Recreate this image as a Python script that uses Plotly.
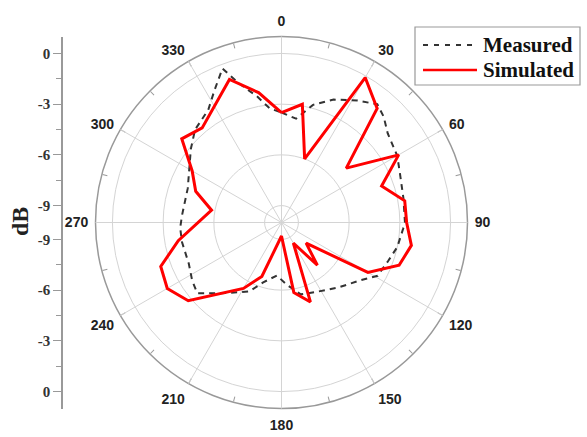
import plotly.graph_objects as go

# ---- data ----
meas_theta = [0, 8, 15, 23, 32, 39, 44, 50, 60, 67, 79, 90, 93, 102, 110, 119, 126, 139,
              153, 165, 175, 185, 197, 205, 218, 230, 237, 246, 259, 267, 274, 290, 298,
              309, 317, 327, 333, 339, 343, 349, 354]
meas_db = [-3.5, -3.8, -2.8, -2.1, -1.5, -1.0, -1.3, -1.8, -2.1, -2.4, -2.65, -2.7, -2.8,
           -3.0, -3.3, -3.5, -4.2, -4.9, -5.4, -5.6, -6.3, -6.85, -6.3, -5.5, -4.7, -3.5,
           -3.7, -4.0, -4.0, -4.0, -4.1, -4.1, -3.8, -3.1, -2.5, -2.05, -1.25, -0.25,
           -1.4, -2.4, -3.2]

sim_theta = [0, 10, 20, 30, 40, 50, 60, 70, 80, 90, 100, 110, 120, 130, 140, 150, 160, 170,
             180, 200, 210, 230, 240, 250, 260, 280, 290, 300, 310, 320, 340, 350]
sim_db = [-3.5, -2.9, -6.0, -0.1, -1.2, -5.0, -2.0, -3.7, -2.6, -2.6, -2.2, -2.6, -4.1, -8.1,
          -6.7, -8.6, -5.0, -5.8, -9.2, -6.6, -5.5, -2.8, -2.2, -2.4, -3.8, -5.8, -4.6, -3.9,
          -2.3, -2.7, -1.0, -2.2]

minor_angles = list(range(0, 360, 15))
major_angles = list(range(0, 360, 30))
major_labels = [str(a) for a in major_angles]
radial_range = [-10, 1]
radial_grid = [-9, -6, -3, 0]

side_tickvals = [10, 7, 4, 1, -1, -4, -7, -10]
side_ticktext = ["0", "-3", "-6", "-9", "-9", "-6", "-3", "0"]
side_minor = [8.5, 5.5, 2.5, -2.5, -5.5, -8.5]

legend_names = ["Measured", "Simulated"]

# ---- geometry ----
W, H = 587, 437
cx, cy, R = 281.5, 222.5, 186
dom_x = [(cx - R) / W, (cx + R) / W]
dom_y = [(H - cy - R) / H, (H - cy + R) / H]
axis_x = 62 / W

GRID = "#d4d4d4"
fig = go.Figure()

# empty trace so the base polar (circles, inner ticks) is drawn
fig.add_trace(go.Scatterpolar(theta=[], r=[], subplot="polar", showlegend=False,
                              hoverinfo="skip"))
fig.add_trace(go.Scatterpolar(
    theta=meas_theta + [meas_theta[0]], r=meas_db + [meas_db[0]],
    mode="lines", subplot="polar2", name=legend_names[0], showlegend=False,
    line=dict(color="#333333", width=2, dash="6px,5px")))
fig.add_trace(go.Scatterpolar(
    theta=sim_theta + [sim_theta[0]], r=sim_db + [sim_db[0]],
    mode="lines", subplot="polar2", name=legend_names[1], showlegend=False,
    line=dict(color="#ff0000", width=3)))
# empty trace so the side dB axis is drawn
fig.add_trace(go.Scatter(x=[], y=[], xaxis="x", yaxis="y", showlegend=False, hoverinfo="skip"))

fig.update_layout(
    width=W, height=H, margin=dict(l=0, r=0, t=0, b=0),
    paper_bgcolor="white", plot_bgcolor="rgba(0,0,0,0)", showlegend=False,
    polar=dict(
        domain=dict(x=dom_x, y=dom_y), bgcolor="white",
        angularaxis=dict(rotation=90, direction="clockwise", tickmode="array",
                         tickvals=minor_angles, showticklabels=False,
                         ticks="inside", ticklen=5, tickcolor="#999", tickwidth=1,
                         showgrid=False, showline=True, linecolor="#999", linewidth=1.5),
        radialaxis=dict(range=radial_range, tickmode="array", tickvals=radial_grid,
                        showgrid=True, gridcolor=GRID, gridwidth=1,
                        showticklabels=False, ticks="", showline=False),
    ),
    polar2=dict(
        domain=dict(x=dom_x, y=dom_y), bgcolor="rgba(0,0,0,0)",
        angularaxis=dict(rotation=90, direction="clockwise", tickmode="array",
                         tickvals=major_angles, ticktext=major_labels,
                         ticks="outside", ticklen=4, tickcolor="rgba(0,0,0,0)",
                         showgrid=True, gridcolor=GRID, gridwidth=1, showline=False,
                         tickfont=dict(family="Liberation Sans", size=14, color="#222",
                                       weight="bold")),
        radialaxis=dict(range=radial_range, showgrid=False, showticklabels=False,
                        ticks="", showline=False),
    ),
    xaxis=dict(domain=[axis_x, axis_x + 0.05], range=[0, 1], visible=False),
    yaxis=dict(domain=dom_y, range=[-11, 11], anchor="free", position=axis_x,
               tickmode="array", tickvals=side_tickvals, ticktext=side_ticktext,
               ticks="outside", ticklen=8, tickcolor="#999", tickwidth=1,
               showline=True, linecolor="#999", linewidth=1.5,
               showgrid=False, zeroline=False,
               tickfont=dict(family="Liberation Serif", size=15, color="#333", weight="bold"),
               minor=dict(tickmode="array", tickvals=side_minor, ticks="outside",
                          ticklen=5, tickcolor="#999", showgrid=False)),
)

# "dB" label
fig.add_annotation(x=20 / W, y=(H - 222) / H, xref="paper", yref="paper",
                   xanchor="center", yanchor="middle",
                   text="dB", textangle=-90, showarrow=False,
                   font=dict(family="Liberation Serif", size=24, color="#222", weight="bold"))

# legend box drawn by hand
lx0, lx1, ly0, ly1 = 415, 580, 27, 85
fig.add_shape(type="rect", xref="paper", yref="paper",
              x0=lx0 / W, x1=lx1 / W, y0=(H - ly1) / H, y1=(H - ly0) / H,
              line=dict(color="#999", width=1.2), fillcolor="white")
rows = [45, 70]
styles = [dict(color="#333333", width=2, dash="5px,6px"), dict(color="#ff0000", width=2.5)]
for name, yy, st in zip(legend_names, rows, styles):
    fig.add_shape(type="line", xref="paper", yref="paper",
                  x0=423 / W, x1=477 / W, y0=(H - yy) / H, y1=(H - yy) / H, line=st)
    fig.add_annotation(x=481 / W, y=(H - yy) / H, xref="paper", yref="paper",
                       text=name, showarrow=False, xanchor="left", yanchor="middle",
                       font=dict(family="Liberation Serif", size=21, color="#111",
                                 weight="bold"))

fig.write_html("out.html", config={"displayModeBar": False},
               post_script="document.body.style.margin='0';")
